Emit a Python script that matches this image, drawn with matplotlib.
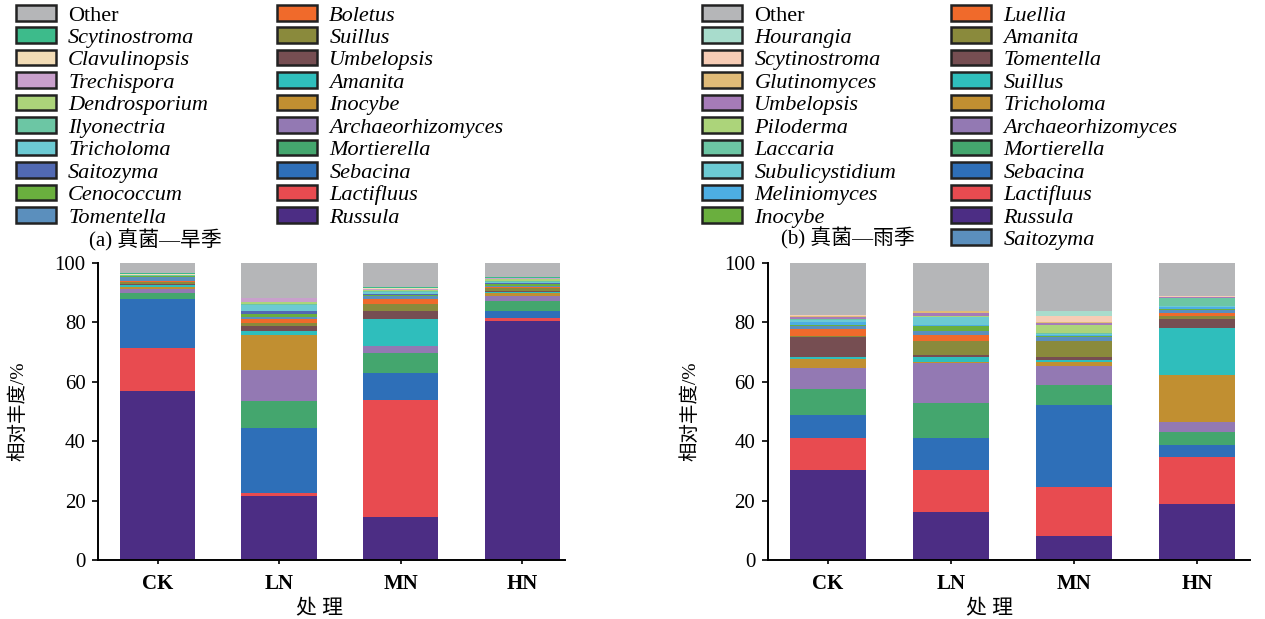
import numpy as np
import matplotlib.pyplot as plt
from matplotlib.patches import Patch

plt.rcParams['font.family'] = ['Liberation Serif', 'Noto Sans CJK SC']

treatments = ["CK", "LN", "MN", "HN"]

# panel (a) dry season, stacking order bottom -> top
genera_a = ["Russula", "Lactifluus", "Sebacina", "Mortierella", "Archaeorhizomyces",
            "Inocybe", "Amanita", "Umbelopsis", "Suillus", "Boletus", "Tomentella",
            "Cenococcum", "Saitozyma", "Tricholoma", "Ilyonectria", "Dendrosporium",
            "Trechispora", "Clavulinopsis", "Scytinostroma", "Other"]
colors_a = ["#4c2d84", "#e84b50", "#2e6fb8", "#44a66e", "#9379b3",
            "#c18f31", "#2fbebc", "#764e52", "#8a8a3c", "#f06a2b", "#5b8fbd",
            "#6aaf3e", "#5169b3", "#6ccad3", "#6cc6a4", "#acd47a",
            "#c9a0cc", "#f2dcb6", "#3dbb8b", "#b5b6b8"]
ck_a = [57.0, 14.3, 16.5, 2.0, 1.5, 0.7, 0.5, 0.5, 0.7, 0.3, 1.3, 0.2, 0.1, 0.1, 0.2, 0.1, 0.1, 0.1, 0.3, 4.5]
ln_a = [21.7, 0.9, 21.8, 9.2, 10.4, 11.7, 1.3, 1.9, 0.8, 1.3, 0.7, 1.3, 0.9, 1.8, 0.4, 0.8, 1.2, 0.0, 0.0, 11.9]
mn_a = [14.5, 39.5, 9.1, 6.5, 2.3, 0.3, 8.9, 2.8, 2.4, 1.6, 1.0, 0.3, 0.4, 0.7, 0.3, 0.4, 0.2, 0.5, 0.3, 8.0]
hn_a = [80.6, 0.9, 2.3, 3.4, 1.7, 1.1, 0.3, 0.3, 1.0, 0.3, 0.5, 0.6, 0.3, 0.4, 0.4, 0.5, 0.2, 0.3, 0.3, 4.6]

# panel (b) rainy season, stacking order bottom -> top
genera_b = ["Russula", "Lactifluus", "Sebacina", "Mortierella", "Archaeorhizomyces",
            "Tricholoma", "Suillus", "Tomentella", "Amanita", "Luellia", "Saitozyma",
            "Inocybe", "Meliniomyces", "Subulicystidium", "Laccaria", "Piloderma",
            "Umbelopsis", "Glutinomyces", "Scytinostroma", "Hourangia", "Other"]
colors_b = ["#4c2d84", "#e84b50", "#2e6fb8", "#44a66e", "#9379b3",
            "#c18f31", "#2fbebc", "#764e52", "#8a8a3c", "#f06a2b", "#5b8fbd",
            "#6aaf3e", "#4daee3", "#6ccad3", "#6cc6a4", "#acd47a",
            "#a67bb8", "#e0bb78", "#f6ccb5", "#a8dccc", "#b5b6b8"]
ck_b = [30.2, 11.0, 7.6, 8.8, 7.0, 3.1, 0.7, 6.7, 0.2, 2.4, 1.0, 0.3, 1.0, 0.7, 0.4, 0.2, 0.4, 0.5, 0.2, 0.2, 17.4]
ln_b = [16.0, 14.4, 10.7, 11.9, 13.4, 0.2, 1.7, 0.7, 4.9, 1.7, 1.4, 1.9, 0.3, 2.6, 0.1, 0.1, 1.1, 0.7, 0.0, 0.0, 16.2]
mn_b = [8.0, 16.7, 27.5, 6.7, 6.5, 1.3, 0.8, 0.9, 5.2, 0.1, 1.3, 0.3, 0.3, 0.4, 0.3, 2.8, 0.8, 0.4, 1.7, 1.8, 16.2]
hn_b = [18.8, 15.8, 4.0, 4.4, 3.5, 15.9, 15.7, 3.2, 0.8, 1.1, 0.9, 0.5, 0.5, 0.5, 2.6, 0.1, 0.1, 0.1, 0.5, 0.0, 11.0]

# legend columns (top -> bottom), as printed
leg_a1 = ["Other", "Scytinostroma", "Clavulinopsis", "Trechispora", "Dendrosporium",
          "Ilyonectria", "Tricholoma", "Saitozyma", "Cenococcum", "Tomentella"]
leg_a2 = ["Boletus", "Suillus", "Umbelopsis", "Amanita", "Inocybe",
          "Archaeorhizomyces", "Mortierella", "Sebacina", "Lactifluus", "Russula"]
leg_b1 = ["Other", "Hourangia", "Scytinostroma", "Glutinomyces", "Umbelopsis",
          "Piloderma", "Laccaria", "Subulicystidium", "Meliniomyces", "Inocybe"]
leg_b2 = ["Luellia", "Amanita", "Tomentella", "Suillus", "Tricholoma",
          "Archaeorhizomyces", "Mortierella", "Sebacina", "Lactifluus", "Russula", "Saitozyma"]


def draw_panel(ax, genera, colors, series, ylab_x, xlab_x):
    data = np.array(series).T  # genus x treatment
    x = np.arange(len(treatments))
    bottom = np.zeros(len(treatments))
    for i, name in enumerate(genera):
        ax.bar(x, data[i], 0.62, bottom=bottom, color=colors[i], linewidth=0)
        bottom += data[i]
    ax.set_ylim(0, 100)
    ax.set_yticks([0, 20, 40, 60, 80, 100])
    ax.set_xticks(x)
    ax.set_xticklabels(treatments, fontsize=15, fontweight='bold')
    ax.tick_params(axis='y', labelsize=15, direction='out', length=4, width=1.2, pad=5)
    ax.tick_params(axis='x', direction='out', length=3, width=1.2, pad=7)
    for s in ['top', 'right']:
        ax.spines[s].set_visible(False)
    for s in ['left', 'bottom']:
        ax.spines[s].set_linewidth(1.4)
    ax.set_ylabel("相对丰度/%", fontsize=14)
    ax.yaxis.set_label_coords(ylab_x, 0.5)
    ax.set_xlabel("处 理", fontsize=15)
    ax.xaxis.set_label_coords(xlab_x, -0.135)


def add_legend(fig, names, genera, colors, pos):
    cmap = dict(zip(genera, colors))
    handles = [Patch(facecolor=cmap[n], edgecolor='#222222', linewidth=1.8) for n in names]
    leg = fig.legend(handles, names, loc='upper left', bbox_to_anchor=pos, frameon=False,
                     fontsize=16, borderpad=0, handlelength=1.8, handleheight=0.7,
                     handletextpad=0.55, labelspacing=0.085, borderaxespad=0)
    for t in leg.get_texts():
        if t.get_text() != "Other":
            t.set_fontstyle('italic')


fig = plt.figure(figsize=(12.65, 6.19), dpi=100)
ax1 = fig.add_axes([0.0775, 0.0953, 0.369, 0.4798])
ax2 = fig.add_axes([0.607, 0.0953, 0.381, 0.4798])

draw_panel(ax1, genera_a, colors_a, [ck_a, ln_a, mn_a, hn_a], -0.152, 0.475)
ax1.set_xlim(-0.49, 3.35)
draw_panel(ax2, genera_b, colors_b, [ck_b, ln_b, mn_b, hn_b], -0.142, 0.46)
ax2.set_xlim(-0.49, 3.43)

add_legend(fig, leg_a1, genera_a, colors_a, (0.0126, 0.992))
add_legend(fig, leg_a2, genera_a, colors_a, (0.219, 0.992))
add_legend(fig, leg_b1, genera_b, colors_b, (0.555, 0.992))
add_legend(fig, leg_b2, genera_b, colors_b, (0.752, 0.992))

fig.text(0.070, 0.612, "(a) 真菌—旱季", fontsize=15, va='center')
fig.text(0.617, 0.615, "(b) 真菌—雨季", fontsize=15, va='center')

fig.savefig("out.png", dpi=100)
